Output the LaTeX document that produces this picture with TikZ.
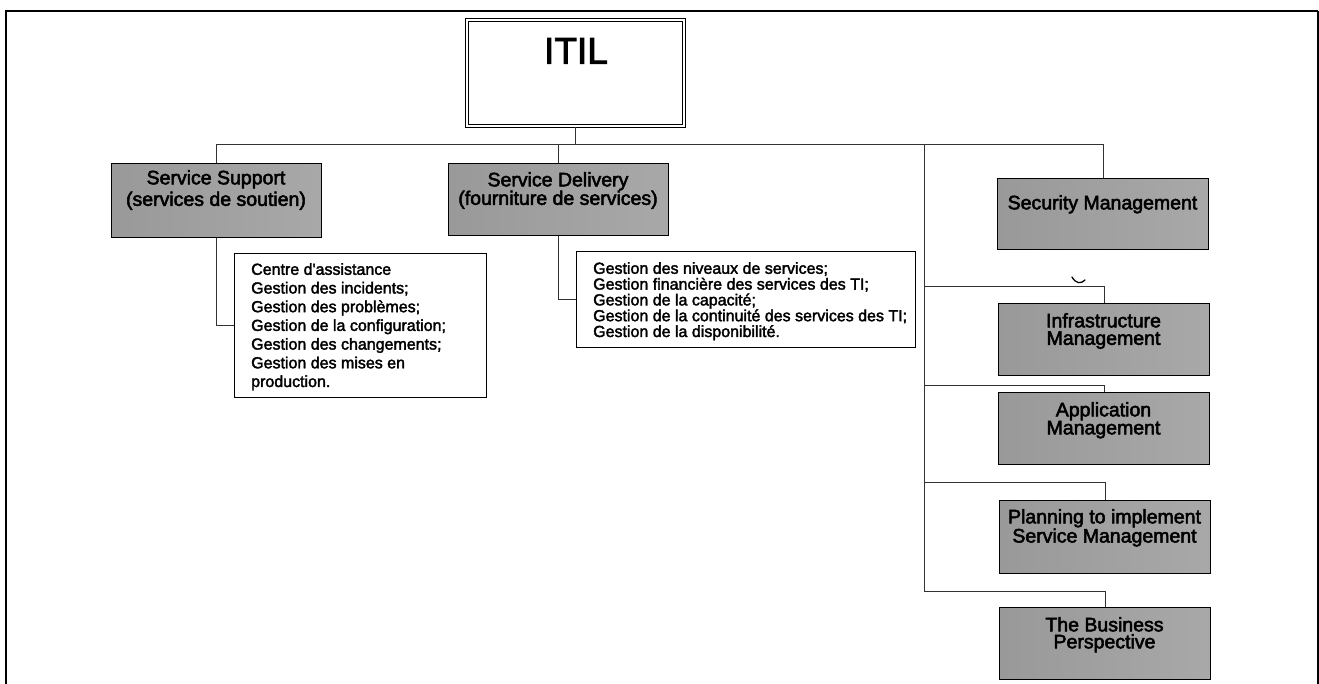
\documentclass[tikz,border=0pt]{standalone}
\usepackage{fontspec}
\setmainfont{Liberation Sans}
\newfontfamily\scanfont{Liberation Sans}[FakeBold=2.6]
\newfontfamily\scanlist{Liberation Sans}[FakeBold=2.2]
\begin{document}
\begin{tikzpicture}[x=1pt,y=-1pt,
  itilbox/.style={draw=black, line width=1.2pt, double=white, double distance=1.6pt, minimum width=217pt, minimum height=106pt, inner sep=0pt},
  gbox/.style={draw=black, line width=1.4pt, left color=black!40, middle color=black!22, right color=black!34, inner sep=0pt, anchor=north west},
  lbox/.style={draw=black, line width=1.2pt, fill=white, inner sep=0pt, anchor=north west},
  btxt/.style={anchor=north, inner sep=0pt, align=center},
  ltxt/.style={anchor=north west, inner sep=0pt, align=left, font=\scanlist\fontsize{16}{18.7}\selectfont},
  conn/.style={draw=black!80, line width=0.8pt}
]
\useasboundingbox (0,0) rectangle (1319,684);
% outer frame
\draw[line width=2pt] (6,684) -- (6,11) -- (1318,11);
\draw[line width=1.4pt] (1318,11) -- (1318,684);

% ITIL
\node[itilbox] (itil) at (575.5,73) {};
\node[btxt, font=\scanfont\fontsize{37}{40}\selectfont] (itilt) at (576,38) {ITIL};

% main boxes
\node[gbox, minimum width=210pt, minimum height=74pt] (ss) at (111,163) {};
\node[btxt, font=\scanfont\fontsize{19.5}{21.5}\selectfont] (sst) at (216,170) {Service Support\\(services de soutien)};

\node[gbox, minimum width=220pt, minimum height=72pt] (sd) at (448,163) {};
\node[btxt, font=\scanfont\fontsize{19.5}{18.5}\selectfont] (sdt) at (558,172) {Service Delivery\\(fourniture de services)};

\node[gbox, minimum width=211pt, minimum height=71pt] (sec) at (997,178) {};
\node[btxt, font=\scanfont\fontsize{19.5}{18}\selectfont] (sect) at (1102.5,195) {Security Management};

\node[gbox, minimum width=211pt, minimum height=72pt] (infra) at (998,303) {};
\node[btxt, font=\scanfont\fontsize{19.5}{17.5}\selectfont] (inft) at (1103.5,313) {Infrastructure\\Management};

\node[gbox, minimum width=211pt, minimum height=72pt] (app) at (998,392) {};
\node[btxt, font=\scanfont\fontsize{19.5}{18}\selectfont] (appt) at (1103.5,402) {Application\\Management};

\node[gbox, minimum width=211pt, minimum height=73pt] (plan) at (999,500) {};
\node[btxt, font=\scanfont\fontsize{19.5}{17}\selectfont] (plant) at (1104.5,509) {Planning to implement\\Service Management};

\node[gbox, minimum width=211pt, minimum height=72pt] (bus) at (999,607) {};
\node[btxt, font=\scanfont\fontsize{19.5}{17}\selectfont] (bust) at (1104.5,617) {The Business\\Perspective};

% lists
\node[lbox, minimum width=252pt, minimum height=144pt] (l1) at (234,253) {};
\node[ltxt] (l1t) at (251,263) {Centre d'assistance\\Gestion des incidents;\\Gestion des problèmes;\\Gestion de la configuration;\\Gestion des changements;\\Gestion des mises en\\production.};

\node[lbox, minimum width=339pt, minimum height=96pt] (l2) at (576,251) {};
\node[ltxt, font=\scanlist\fontsize{16}{15.8}\selectfont] (l2t) at (593,262) {Gestion des niveaux de services;\\Gestion financière des services des TI;\\Gestion de la capacité;\\Gestion de la continuité des services des TI;\\Gestion de la disponibilité.};

% connectors
\coordinate (busline) at (576,144);
\coordinate (rtop) at (924,144);
\coordinate (b1) at (924,286);
\coordinate (b2) at (924,385);
\coordinate (b3) at (924,482);
\coordinate (b4) at (924,591);
\draw[conn] (itil.south) -- (itil.south |- busline);
\draw[conn] (ss.north) -- (ss.north |- busline) -- (sec.north |- busline) -- (sec.north);
\draw[conn] (sd.north) -- (sd.north |- busline);
\draw[conn] (rtop) -- (b4);
\draw[conn] (infra.north) |- (b1);
\draw[conn] (app.north) |- (b2);
\draw[conn] (plan.north) |- (b3);
\draw[conn] (bus.north) |- (b4);
\draw[conn] (ss.south) |- (l1.west);
\draw[conn] (sd.south) |- (l2.west);

% small stray mark
\draw[line width=1.3pt, line cap=round] (1072,277) .. controls (1076,284) and (1081,284) .. (1085,280);
\end{tikzpicture}
\end{document}
